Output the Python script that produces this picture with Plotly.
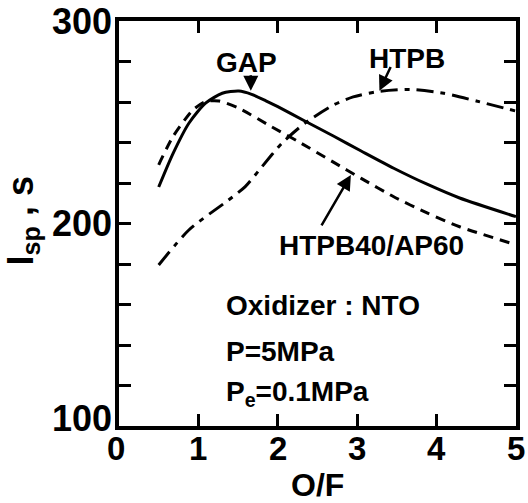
import plotly.graph_objects as go

# ---- data ----
gap_x = [0.5, 0.68, 0.88, 1.09, 1.30, 1.51, 1.67, 1.85, 2.0, 2.34, 2.7, 3.05, 3.46, 3.88, 4.29, 5.0]
gap_y = [218, 234.5, 249.5, 259.4, 264.3, 265.4, 263.8, 260.6, 257.7, 250.6, 243.2, 235.8, 227.3, 219.4, 212.6, 203.4]

ap_x = [0.5, 0.68, 0.93, 1.09, 1.26, 1.51, 1.92, 2.26, 2.7, 3.05, 3.46, 3.88, 4.29, 5.0]
ap_y = [229, 242.9, 256, 260.2, 260.5, 256.9, 247.8, 240.4, 230.3, 222.3, 213.2, 205.2, 198.4, 189.5]

htpb_x = [0.5, 0.88, 1.38, 1.59, 1.80, 2.05, 2.34, 2.7, 2.95, 3.25, 3.67, 4.09, 4.5, 5.0]
htpb_y = [179.5, 196.8, 211.6, 218.2, 228, 239.6, 249.5, 258.5, 262.5, 265.1, 266.2, 264.3, 260.5, 255.5]

x_ticks = [0, 1, 2, 3, 4, 5]
x_ticktext = ["0", "1", "2", "3", "4", "5"]
y_ticks = [100, 120, 140, 160, 180, 200, 220, 240, 260, 280, 300]
y_ticktext = ["100", "", "", "", "", "200", "", "", "", "", "300"]

FONT = "Liberation Sans, Arial, Helvetica, sans-serif"

fig = go.Figure()
fig.add_trace(go.Scatter(x=gap_x, y=gap_y, mode="lines", name="GAP",
                         line=dict(color="black", width=3, shape="spline", smoothing=0.7)))
fig.add_trace(go.Scatter(x=ap_x, y=ap_y, mode="lines", name="HTPB40/AP60",
                         line=dict(color="black", width=3, dash="10px,7px", shape="spline", smoothing=0.7)))
fig.add_trace(go.Scatter(x=htpb_x, y=htpb_y, mode="lines", name="HTPB",
                         line=dict(color="black", width=3, dash="17px,7px,5px,7px", shape="spline", smoothing=0.7)))

def txt(x, y, s, size=28, xanchor="center", **kw):
    fig.add_annotation(x=x, y=y, text=s, showarrow=False, xanchor=xanchor, yanchor="middle",
                       font=dict(family=FONT, size=size, color="black", weight="bold"), **kw)

def arrow(x, y, ax, ay):
    fig.add_annotation(x=x, y=y, ax=ax, ay=ay, axref="x", ayref="y", text="", showarrow=True,
                       arrowhead=2, arrowsize=1.2, arrowwidth=2.5, arrowcolor="black", standoff=0)

txt(1.61, 279.5, "GAP")
arrow(1.66, 265.5, 1.66, 274)
txt(3.63, 281.7, "HTPB")
arrow(3.28, 265.5, 3.43, 278)
txt(3.18, 188.9, "HTPB40/AP60")
arrow(2.92, 224, 2.54, 198.3)

txt(1.32, 159.3, "Oxidizer : NTO", xanchor="left")
txt(1.32, 137, "P=5MPa", xanchor="left")
txt(1.32, 116, "P<sub>e</sub>=0.1MPa", xanchor="left")

# tick labels placed on the axes' own scales
for v, t in zip(x_ticks, x_ticktext):
    fig.add_annotation(x=v, y=0, xref="x", yref="paper", text=t, showarrow=False,
                       xanchor="center", yanchor="middle", yshift=-22,
                       xshift=-3 if v == 0 else 0,
                       font=dict(family=FONT, size=33, color="black", weight="bold"))
for v, t in zip(y_ticks, y_ticktext):
    if t:
        fig.add_annotation(x=0, y=v, xref="paper", yref="y", text=t, showarrow=False,
                           xanchor="right", yanchor="middle", xshift=-5,
                           yshift=8 if v == 100 else 0,
                           font=dict(family=FONT, size=36, color="black", weight="bold"))

# axis titles
fig.add_annotation(x=2.5, y=-0.146, xref="x", yref="paper", text="O/F", showarrow=False,
                   xanchor="center", yanchor="middle",
                   font=dict(family=FONT, size=32, color="black", weight="bold"))
fig.add_annotation(x=0.0, y=0.505, xref="paper", yref="paper", text="I<sub>sp</sub> , s",
                   showarrow=False, textangle=-90, xanchor="center", yanchor="middle",
                   xshift=-96,
                   font=dict(family=FONT, size=36, color="black", weight="bold"))

fig.update_xaxes(range=[0, 5], tickvals=x_ticks, showticklabels=False,
                 ticks="inside", ticklen=12, tickwidth=3, tickcolor="black",
                 showline=True, linewidth=4, linecolor="black", mirror="ticks",
                 showgrid=False, zeroline=False)
fig.update_yaxes(range=[100, 300], tickvals=y_ticks, showticklabels=False,
                 ticks="inside", ticklen=12, tickwidth=3, tickcolor="black",
                 showline=True, linewidth=4, linecolor="black", mirror="ticks",
                 showgrid=False, zeroline=False)

fig.update_layout(width=528, height=503, margin=dict(l=119, r=8, t=21, b=77),
                  paper_bgcolor="white", plot_bgcolor="white", showlegend=False,
                  font=dict(family=FONT, color="black"))

fig.write_html("out.html")
